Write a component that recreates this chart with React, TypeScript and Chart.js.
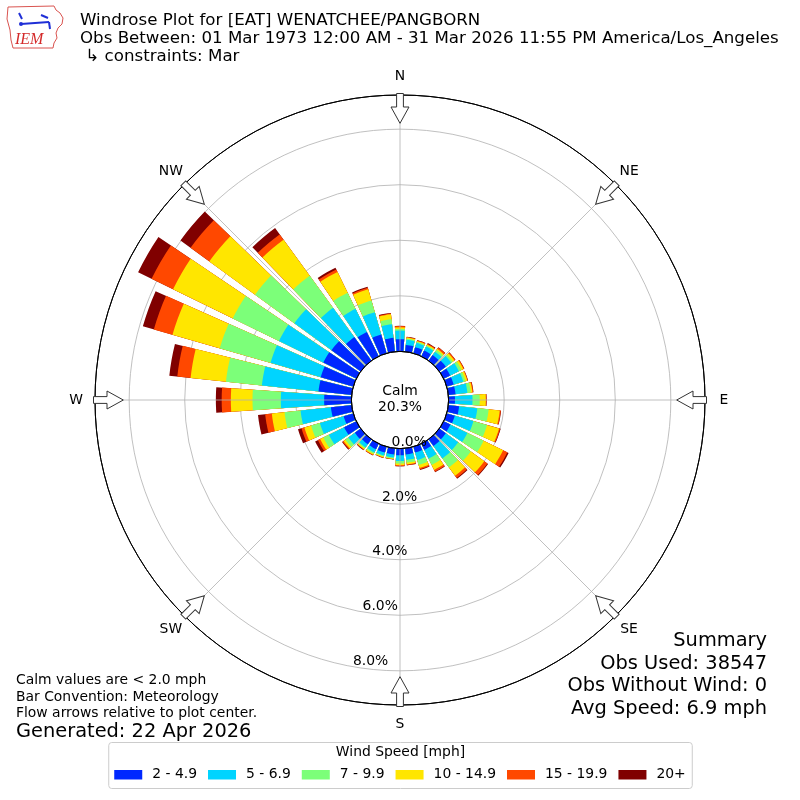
import React, { useEffect, useRef } from "react";
import { Chart, registerables } from "chart.js";

Chart.register(...registerables);

// ---------------- data ----------------
const DIRECTIONS_DEG = [0, 10, 20, 30, 40, 50, 60, 70, 80, 90, 100, 110, 120, 130, 140, 150, 160, 170, 180, 190, 200, 210, 220, 230, 240, 250, 260, 270, 280, 290, 300, 310, 320, 330, 340, 350];
const SPEED_BINS = ["2 - 4.9", "5 - 6.9", "7 - 9.9", "10 - 14.9", "15 - 19.9", "20+"];
const BIN_COLORS = ["#0028ff", "#00d4ff", "#7cff79", "#ffe600", "#ff4800", "#800000"];

// frequency (% of all obs) per direction for each speed bin
const FREQ_2_TO_4_9 = [0.44, 0.24, 0.23, 0.23, 0.25, 0.29, 0.26, 0.26, 0.26, 0.23, 0.39, 0.30, 0.27, 0.29, 0.30, 0.25, 0.22, 0.22, 0.24, 0.22, 0.22, 0.22, 0.22, 0.26, 0.49, 0.36, 0.75, 0.98, 1.20, 1.22, 1.32, 1.30, 1.05, 0.97, 0.70, 0.50];
const FREQ_5_TO_6_9 = [0.31, 0.19, 0.16, 0.16, 0.15, 0.24, 0.35, 0.36, 0.43, 0.63, 0.66, 0.70, 0.68, 0.55, 0.55, 0.35, 0.28, 0.20, 0.21, 0.11, 0.11, 0.13, 0.14, 0.29, 0.61, 0.89, 1.10, 1.56, 2.05, 1.88, 1.78, 1.65, 1.30, 0.93, 0.84, 0.49];
const FREQ_7_TO_9_9 = [0.06, 0.04, 0.04, 0.04, 0.08, 0.07, 0.10, 0.08, 0.12, 0.26, 0.41, 0.51, 0.65, 0.56, 0.40, 0.25, 0.18, 0.10, 0.09, 0.04, 0.04, 0.05, 0.05, 0.13, 0.22, 0.33, 0.58, 1.02, 1.30, 1.90, 1.85, 1.75, 1.43, 0.65, 0.44, 0.18];
const FREQ_10_TO_14_9 = [0.06, 0.04, 0.03, 0.04, 0.05, 0.07, 0.08, 0.07, 0.06, 0.22, 0.40, 0.45, 0.78, 0.60, 0.37, 0.20, 0.12, 0.06, 0.06, 0.02, 0.03, 0.04, 0.04, 0.08, 0.13, 0.25, 0.46, 0.78, 1.28, 1.77, 2.39, 2.04, 1.60, 0.83, 0.42, 0.18];
const FREQ_15_TO_19_9 = [0.04, 0.02, 0.03, 0.03, 0.06, 0.04, 0.03, 0.02, 0.03, 0.02, 0.04, 0.04, 0.17, 0.14, 0.10, 0.07, 0.05, 0.03, 0.03, 0.01, 0.01, 0.02, 0.02, 0.04, 0.09, 0.11, 0.24, 0.33, 0.48, 0.70, 0.86, 0.83, 0.24, 0.10, 0.05, 0.03];
const FREQ_20_PLUS = [0.01, 0.01, 0.01, 0.03, 0.01, 0.01, 0.01, 0.01, 0.01, 0.01, 0.01, 0.02, 0.05, 0.03, 0.03, 0.02, 0.02, 0.01, 0.01, 0.01, 0.01, 0.01, 0.02, 0.03, 0.11, 0.13, 0.26, 0.21, 0.29, 0.41, 0.54, 0.45, 0.28, 0.07, 0.04, 0.02];

const RADIAL_TICKS = [0, 2, 4, 6, 8];
const R_MIN = -1.75; // radial axis value at the center (calm disc occupies -1.75..0)
const R_MAX = 9.23; // radial axis value at the outer ring
const COMPASS_LABELS = ["N", "NE", "E", "SE", "S", "SW", "W", "NW"];
const CALM_LABEL = "Calm";
const CALM_PCT = "20.3%";

const TITLE_LINES = [
  "Windrose Plot for [EAT] WENATCHEE/PANGBORN",
  "Obs Between: 01 Mar 1973 12:00 AM - 31 Mar 2026 11:55 PM America/Los_Angeles",
  " \u21b3 constraints: Mar",
];
const NOTE_LINES = ["Calm values are < 2.0 mph", "Bar Convention: Meteorology", "Flow arrows relative to plot center."];
const GENERATED = "Generated: 22 Apr 2026";
const SUMMARY_LINES = ["Summary", "Obs Used: 38547", "Obs Without Wind: 0", "Avg Speed: 6.9 mph"];
const LEGEND_TITLE = "Wind Speed [mph]";

// ---------------- style ----------------
const FONT = '"DejaVu Sans", "Liberation Sans", sans-serif';
const GRID_COLOR = "#b0b0b0";
const SECTOR_DEG = 10;
const BAR_DEG = 8;
const GAP_DEG = SECTOR_DEG - BAR_DEG;

function drawArrow(ctx: CanvasRenderingContext2D, xc: number, yc: number, R: number, angDeg: number) {
  const a = (angDeg * Math.PI) / 180;
  const tip = R - 28.3;
  const base = R - 12;
  const end = R + 1.5;
  ctx.save();
  ctx.translate(xc, yc);
  ctx.rotate(a);
  ctx.beginPath();
  ctx.moveTo(0, -tip);
  ctx.lineTo(9, -base);
  ctx.lineTo(3.4, -base);
  ctx.lineTo(3.4, -end);
  ctx.lineTo(-3.4, -end);
  ctx.lineTo(-3.4, -base);
  ctx.lineTo(-9, -base);
  ctx.closePath();
  ctx.fillStyle = "#ffffff";
  ctx.fill();
  ctx.strokeStyle = "#333333";
  ctx.lineWidth = 1;
  ctx.stroke();
  ctx.restore();
}

function drawLogo(ctx: CanvasRenderingContext2D) {
  ctx.save();
  ctx.strokeStyle = "#d9534f";
  ctx.lineWidth = 1;
  ctx.beginPath();
  const pts = [
    [8, 7], [54, 6], [56, 10], [60, 13], [63, 18], [62, 24], [58, 28], [56, 33], [57, 38], [54, 43], [53, 48], [13, 48], [11, 40], [10, 30], [7, 19],
  ];
  pts.forEach(([x, y], i) => (i === 0 ? ctx.moveTo(x, y) : ctx.lineTo(x, y)));
  ctx.closePath();
  ctx.stroke();
  ctx.strokeStyle = "#1f2fd6";
  ctx.fillStyle = "#1f2fd6";
  ctx.lineWidth = 2;
  ctx.beginPath();
  ctx.moveTo(21, 24);
  ctx.lineTo(49, 22);
  ctx.stroke();
  ctx.beginPath();
  ctx.moveTo(19, 13);
  ctx.lineTo(22, 19);
  ctx.stroke();
  ctx.beginPath();
  ctx.moveTo(41, 15);
  ctx.lineTo(48, 18);
  ctx.stroke();
  ctx.beginPath();
  ctx.arc(21, 24, 2, 0, Math.PI * 2);
  ctx.fill();
  ctx.beginPath();
  ctx.moveTo(49, 22);
  ctx.lineTo(50, 29);
  ctx.stroke();
  ctx.fillStyle = "#d42a2a";
  ctx.font = 'italic 16px "Liberation Serif", "DejaVu Serif", serif';
  ctx.textAlign = "left";
  ctx.textBaseline = "alphabetic";
  ctx.fillText("IEM", 15, 44);
  ctx.restore();
}

const decorPlugin = {
  id: "windroseDecor",
  afterDatasetsDraw(chart: any) {
    const s = chart.scales.r;
    const ctx: CanvasRenderingContext2D = chart.ctx;
    const xc = s.xCenter;
    const yc = s.yCenter;
    const R = s.drawingArea;
    const r0 = s.getDistanceFromCenterForValue(0);
    ctx.save();
    ctx.strokeStyle = GRID_COLOR;
    ctx.lineWidth = 0.8;
    for (let k = 0; k < 8; k++) {
      const a = (k * Math.PI) / 4;
      ctx.beginPath();
      ctx.moveTo(xc + r0 * Math.sin(a), yc - r0 * Math.cos(a));
      ctx.lineTo(xc + R * Math.sin(a), yc - R * Math.cos(a));
      ctx.stroke();
    }
    ctx.beginPath();
    ctx.arc(xc, yc, r0, 0, Math.PI * 2);
    ctx.fillStyle = "#ffffff";
    ctx.fill();
    ctx.strokeStyle = "#000000";
    ctx.lineWidth = 1;
    ctx.stroke();
    ctx.restore();
  },
  afterDraw(chart: any) {
    const s = chart.scales.r;
    const ctx: CanvasRenderingContext2D = chart.ctx;
    const xc = s.xCenter;
    const yc = s.yCenter;
    const R = s.drawingArea;
    const r0 = s.getDistanceFromCenterForValue(0);
    ctx.save();
    // calm edge and outer spine on top of the grid
    ctx.strokeStyle = "#000000";
    ctx.lineWidth = 1;
    ctx.beginPath();
    ctx.arc(xc, yc, r0, 0, Math.PI * 2);
    ctx.stroke();
    ctx.beginPath();
    ctx.arc(xc, yc, R, 0, Math.PI * 2);
    ctx.stroke();
    // arrows
    COMPASS_LABELS.forEach((_, k) => drawArrow(ctx, xc, yc, R, k * 45));
    // compass labels
    ctx.fillStyle = "#000";
    ctx.font = `13.9px ${FONT}`;
    ctx.textAlign = "center";
    ctx.textBaseline = "middle";
    COMPASS_LABELS.forEach((lab, k) => {
      const a = (k * Math.PI) / 4;
      const rr = R + 19;
      ctx.fillText(lab, xc + rr * Math.sin(a), yc - rr * Math.cos(a));
    });
    // radial tick labels
    ctx.textAlign = "left";
    ctx.textBaseline = "alphabetic";
    const la = (190 * Math.PI) / 180;
    RADIAL_TICKS.forEach((v) => {
      const rr = s.getDistanceFromCenterForValue(v);
      ctx.fillText(`${v.toFixed(1)}%`, xc + rr * Math.sin(la), yc - rr * Math.cos(la) - 2);
    });
    // calm text
    ctx.textAlign = "center";
    ctx.textBaseline = "middle";
    ctx.fillText(CALM_LABEL, xc, yc - 8.5);
    ctx.fillText(CALM_PCT, xc, yc + 7.5);
    // title
    ctx.textAlign = "left";
    ctx.textBaseline = "alphabetic";
    ctx.font = `16.67px ${FONT}`;
    TITLE_LINES.forEach((t, i) => ctx.fillText(t, 80, 25 + i * 18.2));
    // notes
    ctx.font = `13.9px ${FONT}`;
    NOTE_LINES.forEach((t, i) => ctx.fillText(t, 16, 684 + i * 16.5));
    ctx.font = `19.4px ${FONT}`;
    ctx.fillText(GENERATED, 16, 737);
    // summary
    ctx.textAlign = "right";
    SUMMARY_LINES.forEach((t, i) => ctx.fillText(t, 767, 646 + i * 22.5));
    // legend
    ctx.font = `13.9px ${FONT}`;
    const BOX_W = 28;
    const TXT_GAP = 10;
    const ITEM_GAP = 11;
    const widths = SPEED_BINS.map((t) => ctx.measureText(t).width);
    const total = widths.reduce((acc, w) => acc + BOX_W + TXT_GAP + w, 0) + ITEM_GAP * (SPEED_BINS.length - 1);
    const cx = chart.width / 2;
    let x = cx - total / 2;
    const fl = x - 5.5;
    const fr = x + total + 6.5;
    const ft = 742.5;
    const fb = 788.5;
    ctx.beginPath();
    const rad = 3;
    ctx.moveTo(fl + rad, ft);
    ctx.lineTo(fr - rad, ft);
    ctx.quadraticCurveTo(fr, ft, fr, ft + rad);
    ctx.lineTo(fr, fb - rad);
    ctx.quadraticCurveTo(fr, fb, fr - rad, fb);
    ctx.lineTo(fl + rad, fb);
    ctx.quadraticCurveTo(fl, fb, fl, fb - rad);
    ctx.lineTo(fl, ft + rad);
    ctx.quadraticCurveTo(fl, ft, fl + rad, ft);
    ctx.closePath();
    ctx.fillStyle = "rgba(255,255,255,0.8)";
    ctx.fill();
    ctx.strokeStyle = "#cccccc";
    ctx.lineWidth = 1;
    ctx.stroke();
    ctx.fillStyle = "#000";
    ctx.textAlign = "center";
    ctx.textBaseline = "middle";
    ctx.fillText(LEGEND_TITLE, (fl + fr) / 2, 752.5);
    ctx.textAlign = "left";
    SPEED_BINS.forEach((t, k) => {
      ctx.fillStyle = BIN_COLORS[k];
      ctx.fillRect(x, 770, BOX_W, 9.5);
      ctx.fillStyle = "#000";
      ctx.fillText(t, x + BOX_W + TXT_GAP, 774.8);
      x += BOX_W + TXT_GAP + widths[k] + ITEM_GAP;
    });
    drawLogo(ctx);
    ctx.restore();
  },
};

export default function App() {
  const ref = useRef<HTMLCanvasElement>(null);
  useEffect(() => {
    const canvas = ref.current;
    if (!canvas) return;
    const bins = [FREQ_2_TO_4_9, FREQ_5_TO_6_9, FREQ_7_TO_9_9, FREQ_10_TO_14_9, FREQ_15_TO_19_9, FREQ_20_PLUS];
    const labels: string[] = [];
    DIRECTIONS_DEG.forEach((d) => {
      labels.push(`${d}`);
      labels.push("");
    });
    const datasets = SPEED_BINS.map((name, k) => {
      const data: number[] = [];
      DIRECTIONS_DEG.forEach((_, i) => {
        let c = 0;
        for (let j = 0; j <= k; j++) c += bins[j][i];
        data.push(c);
        data.push(R_MIN);
      });
      return {
        label: name,
        data,
        backgroundColor: BIN_COLORS[k],
        borderWidth: 0,
        angle: (c: any) => (c.dataIndex % 2 === 0 ? BAR_DEG : GAP_DEG),
      };
    });
    const chart = new Chart(canvas, {
      type: "polarArea",
      data: { labels, datasets } as any,
      options: {
        responsive: true,
        maintainAspectRatio: false,
        animation: false,
        devicePixelRatio: 1,
        events: [],
        layout: { padding: { left: 95, right: 95, top: 95, bottom: 95 } },
        plugins: { legend: { display: false }, tooltip: { enabled: false } },
        scales: {
          r: {
            type: "radialLinear",
            min: R_MIN,
            max: R_MAX,
            startAngle: -BAR_DEG / 2,
            ticks: { display: false, stepSize: 2, z: 1 },
            pointLabels: { display: false },
            angleLines: { display: false },
            grid: {
              circular: true,
              color: (c: any) => (c.tick && (c.tick.value === 0 || c.tick.value === R_MAX) ? "#000000" : GRID_COLOR),
              lineWidth: (c: any) => (c.tick && (c.tick.value === 0 || c.tick.value === R_MAX) ? 1 : 0.8),
            },
          },
        },
      } as any,
      plugins: [decorPlugin],
    });
    return () => chart.destroy();
  }, []);
  return (
    <div style={{ position: "absolute", left: 0, top: 0, width: 800, height: 800 }}>
      <canvas ref={ref} />
    </div>
  );
}
